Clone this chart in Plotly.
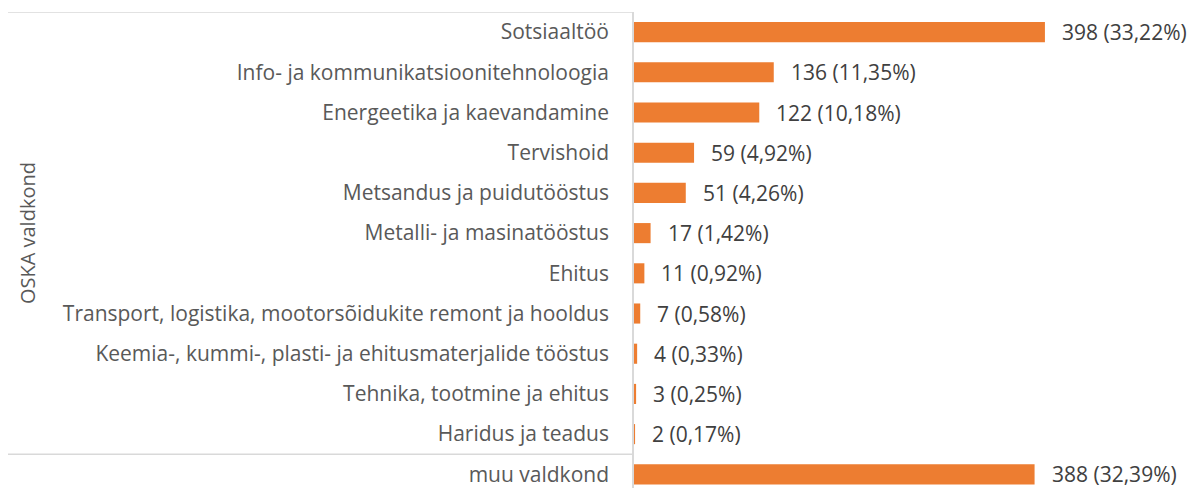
import plotly.graph_objects as go

categories = [
    "Sotsiaaltöö",
    "Info- ja kommunikatsioonitehnoloogia",
    "Energeetika ja kaevandamine",
    "Tervishoid",
    "Metsandus ja puidutööstus",
    "Metalli- ja masinatööstus",
    "Ehitus",
    "Transport, logistika, mootorsõidukite remont ja hooldus",
    "Keemia-, kummi-, plasti- ja ehitusmaterjalide tööstus",
    "Tehnika, tootmine ja ehitus",
    "Haridus ja teadus",
    "muu valdkond",
]
counts = [398, 136, 122, 59, 51, 17, 11, 7, 4, 3, 2, 388]
percents = ["33,22%", "11,35%", "10,18%", "4,92%", "4,26%", "1,42%",
            "0,92%", "0,58%", "0,33%", "0,25%", "0,17%", "32,39%"]
axis_title = "OSKA valdkond"

FONT = "Open Sans"
FS = 21
pos = list(range(len(categories)))

fig = go.Figure()
fig.add_trace(go.Bar(
    x=counts, y=pos, orientation="h",
    marker=dict(color="#ED7D31", line=dict(width=0)),
    width=0.5, hoverinfo="skip",
))

for p, c, pc in zip(pos, counts, percents):
    fig.add_annotation(x=c, y=p, xref="x", yref="y", text=f"{c} ({pc})",
                       showarrow=False, xanchor="left", yanchor="middle",
                       xshift=15, font=dict(family=FONT, size=FS, color="#404040"))

# page body has an 8px margin; figure is sized/offset to compensate
W, H = 1187, 480
L, T = 625, 4
fig.update_layout(
    width=W, height=H,
    margin=dict(l=L, r=0, t=T, b=0),
    paper_bgcolor="white", plot_bgcolor="white",
    showlegend=False,
    bargap=0.5,
    font=dict(family=FONT, size=FS, color="#595959"),
    xaxis=dict(range=[0, 543], visible=False, fixedrange=True),
    yaxis=dict(
        range=[11.34, -0.5], tickmode="array", tickvals=pos, ticktext=categories,
        showgrid=False, zeroline=False, showline=False,
        ticks="", ticklabelstandoff=23,
        tickfont=dict(family=FONT, size=FS, color="#595959"),
    ),
)

# axis line and category group lines
fig.add_shape(type="line", xref="paper", yref="paper", x0=0, x1=0, y0=0, y1=1,
              line=dict(color="#D9D9D9", width=2))
fig.add_shape(type="line", xref="paper", yref="y", x0=-L / (W - L), x1=0,
              y0=-0.5, y1=-0.5, line=dict(color="#D9D9D9", width=1.5))
fig.add_shape(type="line", xref="paper", yref="y", x0=-L / (W - L), x1=0,
              y0=10.5, y1=10.5, line=dict(color="#D9D9D9", width=1.5))

fig.add_annotation(text=axis_title, xref="paper", yref="y", x=-(L - 19) / (W - L), y=5,
                   showarrow=False, textangle=-90, xanchor="center", yanchor="middle",
                   font=dict(family=FONT, size=FS - 1, color="#595959"))

fig.write_html("out.html")
